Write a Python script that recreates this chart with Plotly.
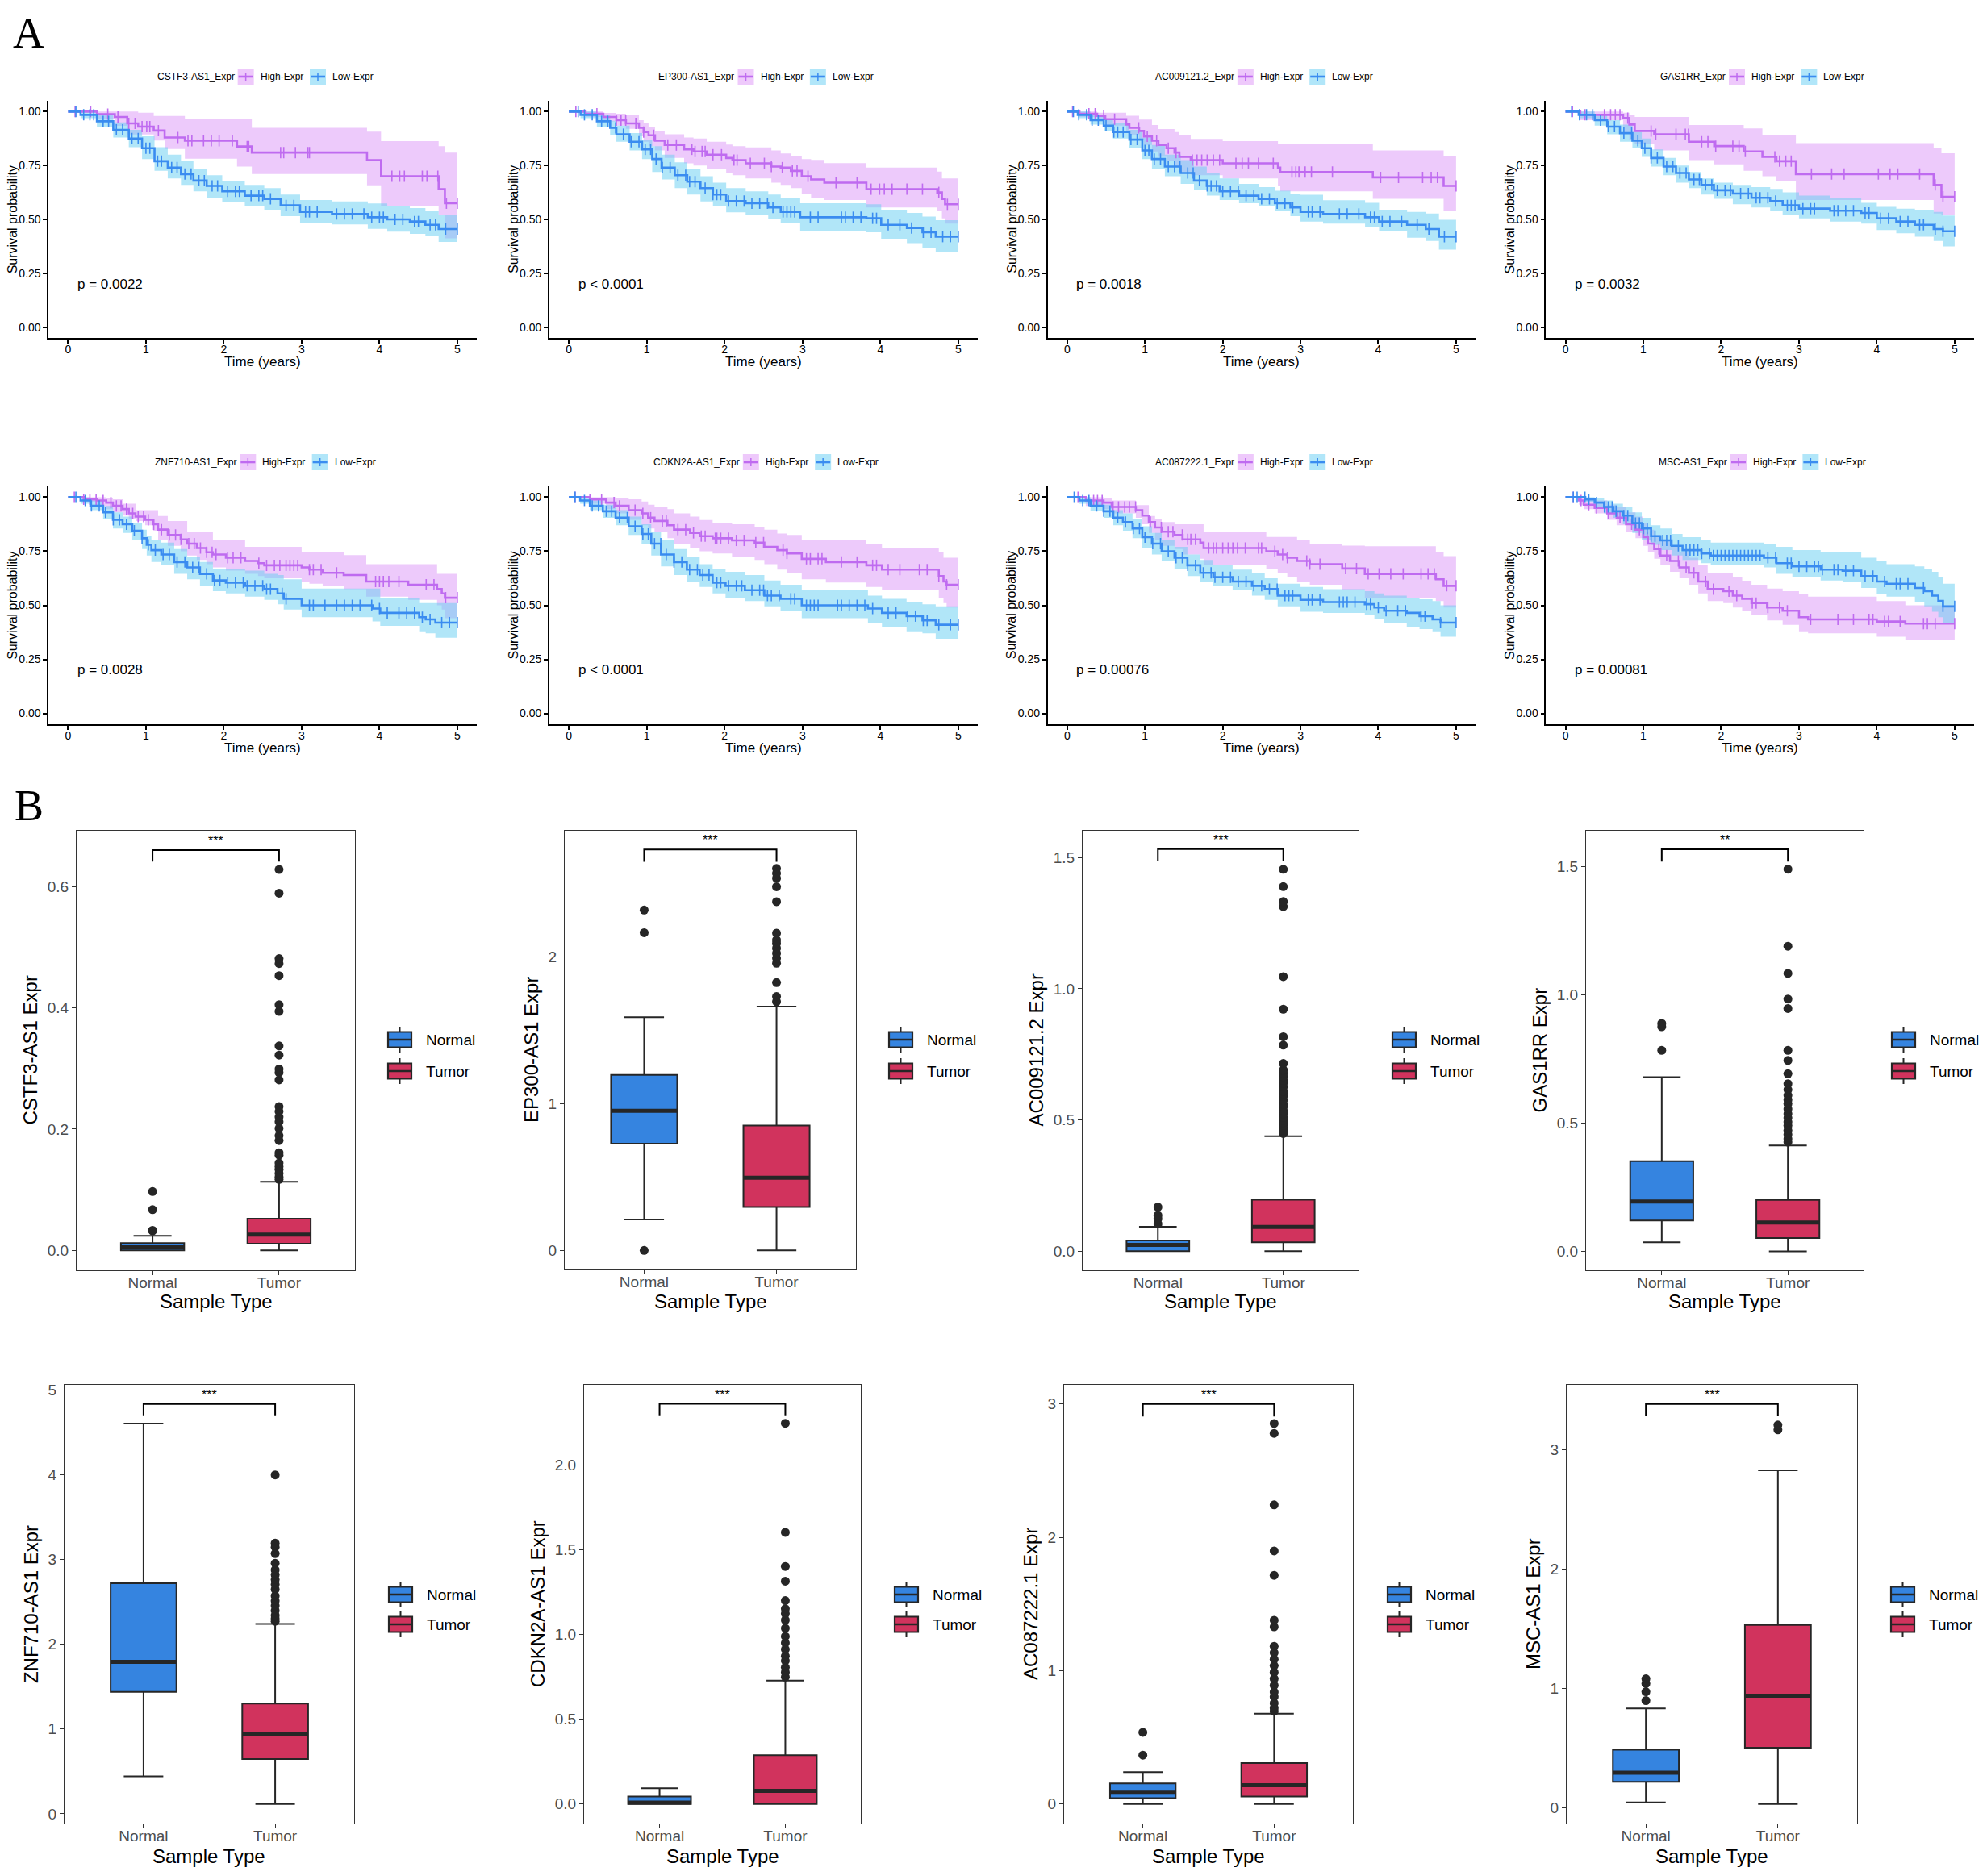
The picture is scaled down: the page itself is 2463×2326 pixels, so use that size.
import plotly.graph_objects as go

W, H = 2463, 2326
PAD = 8  # default page margin around the plot div
FW, FH = W - 2 * PAD, H - 2 * PAD
SANS = "Liberation Sans, Arial, sans-serif"
SERIF = "Liberation Serif, Times New Roman, serif"

HIGH_LINE = "#BF6BF0"
LOW_LINE = "#3A8CF0"
HIGH_BAND = "rgba(220,150,248,0.5)"
LOW_BAND = "rgba(100,205,242,0.5)"
HIGH_KEY = "#EEC9FB"
LOW_KEY = "#B1E6F9"
NORMAL_FILL = "#3584E0"
TUMOR_FILL = "#D1335D"
INK = "#262626"

# ---------------- panel A: Kaplan-Meier curves ----------------
# rows: (time in years, survival, lower CI, upper CI)
genes = ["CSTF3-AS1", "EP300-AS1", "AC009121.2", "GAS1RR",
         "ZNF710-AS1", "CDKN2A-AS1", "AC087222.1", "MSC-AS1"]
pvals = ["p = 0.0022", "p < 0.0001", "p = 0.0018", "p = 0.0032",
         "p = 0.0028", "p < 0.0001", "p = 0.00076", "p = 0.00081"]

cstf3_high = [(0, 1, 1, 1), (0.37, 0.988, 0.965, 1.0), (0.60, 0.975, 0.934, 1.0), (0.76, 0.945, 0.894, 1.0),
              (0.90, 0.93, 0.894, 0.995), (1.10, 0.912, 0.866, 0.98), (1.24, 0.88, 0.826, 0.98),
              (1.50, 0.865, 0.782, 0.965), (2.17, 0.838, 0.745, 0.965), (2.36, 0.81, 0.71, 0.925),
              (3.84, 0.775, 0.658, 0.907), (4.02, 0.70, 0.564, 0.863), (4.76, 0.64, 0.52, 0.84),
              (4.84, 0.575, 0.412, 0.81), (5.0, 0.575, 0.412, 0.81)]
cstf3_low = [(0, 1, 1, 1), (0.16, 0.985, 0.97, 1.0), (0.37, 0.955, 0.93, 0.985), (0.58, 0.915, 0.88, 0.95),
             (0.78, 0.875, 0.835, 0.915), (0.95, 0.83, 0.78, 0.885), (1.11, 0.77, 0.725, 0.835),
             (1.28, 0.74, 0.69, 0.80), (1.45, 0.71, 0.66, 0.77), (1.61, 0.68, 0.63, 0.735),
             (1.78, 0.655, 0.60, 0.705), (1.98, 0.63, 0.58, 0.68), (2.27, 0.61, 0.56, 0.66),
             (2.52, 0.595, 0.545, 0.645), (2.73, 0.565, 0.515, 0.615), (2.98, 0.535, 0.485, 0.59),
             (3.39, 0.525, 0.477, 0.583), (3.85, 0.51, 0.456, 0.574), (4.10, 0.50, 0.443, 0.564),
             (4.39, 0.49, 0.433, 0.552), (4.59, 0.475, 0.421, 0.54), (4.76, 0.455, 0.395, 0.52),
             (5.0, 0.455, 0.395, 0.52)]
cstf3_high_cens = [0.09, 0.29, 0.51, 0.64, 0.78, 0.86, 0.95, 1.01, 1.05, 1.16, 1.41, 1.54, 1.59, 1.74, 1.84,
                   1.94, 2.11, 2.30, 2.32, 2.73, 2.77, 2.92, 3.08, 3.10, 4.16, 4.26, 4.32, 4.55, 4.61, 4.75,
                   4.86, 5.0]
cstf3_low_cens = [0.1, 0.2, 0.28, 0.33, 0.45, 0.52, 0.62, 0.7, 0.82, 0.9, 1.0, 1.05, 1.15, 1.2, 1.33, 1.4,
                  1.5, 1.58, 1.68, 1.75, 1.85, 1.92, 2.05, 2.15, 2.2, 2.35, 2.45, 2.5, 2.6, 2.8, 2.9, 3.05,
                  3.1, 3.2, 3.45, 3.55, 3.65, 3.8, 3.9, 4.0, 4.05, 4.2, 4.3, 4.45, 4.5, 4.65, 4.72, 4.85, 5.0]

ep300_high = [(0, 1, 1, 1), (0.215, 0.99, 0.975, 1.0), (0.443, 0.975, 0.955, 0.994), (0.609, 0.96, 0.935, 0.99),
              (0.733, 0.945, 0.92, 0.985), (0.90, 0.925, 0.885, 0.96), (0.96, 0.905, 0.86, 0.945),
              (1.023, 0.89, 0.84, 0.93), (1.106, 0.865, 0.82, 0.91), (1.23, 0.845, 0.785, 0.895),
              (1.48, 0.825, 0.76, 0.88), (1.60, 0.815, 0.75, 0.875), (1.77, 0.80, 0.735, 0.86),
              (2.02, 0.785, 0.715, 0.847), (2.10, 0.775, 0.705, 0.84), (2.27, 0.76, 0.69, 0.834),
              (2.60, 0.745, 0.67, 0.82), (2.72, 0.74, 0.66, 0.806), (2.85, 0.725, 0.645, 0.795),
              (2.99, 0.70, 0.62, 0.78), (3.11, 0.685, 0.60, 0.776), (3.28, 0.67, 0.59, 0.761),
              (3.82, 0.64, 0.555, 0.74), (4.73, 0.625, 0.54, 0.722), (4.79, 0.595, 0.505, 0.69),
              (4.83, 0.57, 0.48, 0.69), (5.0, 0.57, 0.48, 0.69)]
ep300_low = [(0, 1, 1, 1), (0.15, 0.985, 0.97, 1.0), (0.36, 0.955, 0.93, 0.985), (0.53, 0.925, 0.89, 0.957),
             (0.61, 0.895, 0.86, 0.935), (0.78, 0.86, 0.82, 0.90), (0.94, 0.825, 0.78, 0.87),
             (1.07, 0.78, 0.72, 0.84), (1.19, 0.74, 0.685, 0.80), (1.36, 0.705, 0.645, 0.765),
             (1.52, 0.675, 0.615, 0.735), (1.69, 0.645, 0.583, 0.70), (1.85, 0.615, 0.56, 0.67),
             (2.02, 0.585, 0.533, 0.645), (2.27, 0.575, 0.52, 0.63), (2.56, 0.555, 0.50, 0.615),
             (2.72, 0.535, 0.483, 0.60), (2.97, 0.51, 0.446, 0.575), (3.82, 0.505, 0.44, 0.57),
             (4.01, 0.475, 0.41, 0.545), (4.34, 0.46, 0.39, 0.53), (4.54, 0.44, 0.365, 0.513),
             (4.71, 0.42, 0.349, 0.496), (5.0, 0.42, 0.349, 0.496)]
ep300_high_cens = [0.09, 0.36, 0.61, 0.67, 0.73, 0.86, 0.96, 1.09, 1.27, 1.38, 1.58, 1.62, 1.71, 1.75, 1.85,
                   1.96, 2.12, 2.16, 2.33, 2.51, 2.6, 2.74, 2.87, 2.93, 3.07, 3.43, 3.7, 3.88, 3.99, 4.05,
                   4.15, 4.34, 4.54, 4.75, 4.86, 5.0]
ep300_low_cens = [0.12, 0.2, 0.3, 0.42, 0.5, 0.6, 0.7, 0.8, 0.9, 0.98, 1.05, 1.12, 1.2, 1.3, 1.4, 1.5, 1.55,
                  1.62, 1.75, 1.85, 1.9, 1.95, 2.05, 2.15, 2.25, 2.35, 2.45, 2.55, 2.62, 2.75, 2.8, 2.85,
                  2.9, 3.1, 3.2, 3.5, 3.55, 3.65, 3.75, 3.9, 3.95, 4.1, 4.25, 4.4, 4.55, 4.65, 4.8, 4.9, 5.0]

ac009_high = [(0, 1, 1, 1), (0.158, 0.99, 0.975, 1.0), (0.386, 0.98, 0.96, 0.995), (0.49, 0.965, 0.935, 0.995),
              (0.759, 0.94, 0.905, 0.981), (0.80, 0.925, 0.89, 0.981), (0.925, 0.91, 0.87, 0.963),
              (0.987, 0.885, 0.845, 0.963), (1.09, 0.865, 0.815, 0.938), (1.173, 0.845, 0.79, 0.919),
              (1.277, 0.83, 0.77, 0.919), (1.38, 0.81, 0.745, 0.905), (1.443, 0.79, 0.72, 0.892),
              (1.588, 0.775, 0.705, 0.873), (2.0, 0.76, 0.69, 0.863), (2.71, 0.74, 0.655, 0.851),
              (2.74, 0.72, 0.63, 0.851), (3.93, 0.695, 0.595, 0.82), (4.84, 0.655, 0.54, 0.792),
              (5.0, 0.655, 0.54, 0.792)]
ac009_low = [(0, 1, 1, 1), (0.137, 0.985, 0.97, 1.0), (0.30, 0.96, 0.94, 0.985), (0.47, 0.935, 0.91, 0.965),
             (0.59, 0.905, 0.875, 0.945), (0.80, 0.87, 0.83, 0.915), (0.966, 0.82, 0.78, 0.88),
             (1.09, 0.78, 0.735, 0.845), (1.256, 0.745, 0.70, 0.80), (1.46, 0.715, 0.665, 0.775),
             (1.63, 0.68, 0.635, 0.745), (1.795, 0.655, 0.61, 0.715), (1.96, 0.63, 0.59, 0.69),
             (2.21, 0.61, 0.575, 0.665), (2.46, 0.595, 0.56, 0.65), (2.67, 0.575, 0.54, 0.633),
             (2.87, 0.555, 0.515, 0.62), (3.0, 0.535, 0.49, 0.614), (3.29, 0.525, 0.48, 0.589),
             (3.83, 0.51, 0.465, 0.577), (4.01, 0.49, 0.445, 0.545), (4.37, 0.475, 0.415, 0.535),
             (4.61, 0.455, 0.40, 0.527), (4.78, 0.42, 0.36, 0.498), (5.0, 0.42, 0.36, 0.498)]
ac009_high_cens = [0.07, 0.28, 0.36, 0.47, 0.61, 0.92, 1.03, 1.15, 1.30, 1.40, 1.61, 1.67, 1.73, 1.80, 1.88,
                   1.96, 2.17, 2.25, 2.33, 2.46, 2.65, 2.89, 2.94, 2.98, 3.06, 3.14, 3.41, 4.03, 4.26, 4.57,
                   4.68, 4.76, 5.0]
ac009_low_cens = [0.08, 0.15, 0.25, 0.32, 0.4, 0.5, 0.6, 0.65, 0.72, 0.82, 0.9, 1.0, 1.05, 1.12, 1.2, 1.3,
                  1.38, 1.45, 1.55, 1.62, 1.7, 1.8, 1.85, 1.92, 2.0, 2.1, 2.2, 2.3, 2.4, 2.5, 2.6, 2.7, 2.8,
                  2.9, 3.1, 3.15, 3.25, 3.5, 3.6, 3.75, 3.9, 3.95, 4.05, 4.15, 4.3, 4.5, 4.65, 4.85, 5.0]

gas1rr_high = [(0, 1, 1, 1), (0.19, 0.985, 0.96, 1.0), (0.74, 0.97, 0.90, 0.995), (0.82, 0.94, 0.87, 0.985),
               (0.89, 0.91, 0.85, 0.975), (1.14, 0.895, 0.82, 0.975), (1.585, 0.86, 0.775, 0.938),
               (1.91, 0.84, 0.755, 0.938), (2.29, 0.815, 0.725, 0.922), (2.53, 0.79, 0.70, 0.892),
               (2.71, 0.77, 0.68, 0.892), (2.96, 0.71, 0.59, 0.854), (4.73, 0.66, 0.527, 0.832),
               (4.83, 0.605, 0.52, 0.807), (5.0, 0.605, 0.52, 0.807)]
gas1rr_low = [(0, 1, 1, 1), (0.17, 0.985, 0.97, 1.0), (0.375, 0.96, 0.935, 0.985), (0.536, 0.93, 0.895, 0.96),
              (0.70, 0.90, 0.86, 0.94), (0.86, 0.865, 0.83, 0.905), (0.98, 0.83, 0.79, 0.875),
              (1.10, 0.785, 0.745, 0.825), (1.26, 0.745, 0.705, 0.785), (1.42, 0.715, 0.67, 0.75),
              (1.585, 0.685, 0.645, 0.72), (1.746, 0.66, 0.615, 0.69), (1.907, 0.635, 0.595, 0.67),
              (2.15, 0.62, 0.57, 0.66), (2.39, 0.60, 0.555, 0.65), (2.63, 0.585, 0.54, 0.641),
              (2.79, 0.565, 0.52, 0.625), (3.0, 0.55, 0.505, 0.61), (3.4, 0.54, 0.49, 0.60),
              (3.8, 0.53, 0.48, 0.577), (4.0, 0.505, 0.45, 0.558), (4.25, 0.49, 0.435, 0.55),
              (4.49, 0.475, 0.42, 0.545), (4.73, 0.455, 0.40, 0.535), (4.85, 0.445, 0.375, 0.518),
              (5.0, 0.445, 0.375, 0.518)]
gas1rr_high_cens = [0.09, 0.25, 0.50, 0.58, 0.64, 0.70, 0.80, 1.10, 1.16, 1.42, 1.54, 1.58, 1.75, 1.83, 1.93,
                    2.15, 2.23, 2.31, 2.69, 2.75, 2.83, 2.90, 3.16, 3.42, 3.58, 4.02, 4.17, 4.27, 4.55, 4.75,
                    4.85, 5.0]
gas1rr_low_cens = [0.08, 0.18, 0.27, 0.35, 0.45, 0.55, 0.63, 0.75, 0.85, 0.93, 1.02, 1.1, 1.18, 1.3, 1.38,
                   1.47, 1.55, 1.65, 1.72, 1.8, 1.88, 1.95, 2.05, 2.12, 2.25, 2.35, 2.45, 2.5, 2.6, 2.7, 2.85,
                   2.9, 2.95, 3.05, 3.15, 3.2, 3.45, 3.5, 3.6, 3.7, 3.85, 3.9, 4.05, 4.15, 4.3, 4.4, 4.55,
                   4.6, 4.75, 4.85, 5.0]

znf710_high = [(0, 1, 1, 1), (0.20, 0.99, 0.975, 1.0), (0.37, 0.985, 0.96, 1.0), (0.49, 0.975, 0.945, 0.995),
               (0.576, 0.96, 0.93, 0.99), (0.70, 0.945, 0.915, 0.97), (0.78, 0.925, 0.90, 0.97),
               (0.866, 0.91, 0.89, 0.94), (0.99, 0.895, 0.87, 0.94), (1.094, 0.875, 0.845, 0.94),
               (1.156, 0.85, 0.80, 0.913), (1.28, 0.825, 0.775, 0.89), (1.446, 0.805, 0.75, 0.89),
               (1.53, 0.785, 0.73, 0.84), (1.653, 0.765, 0.71, 0.84), (1.777, 0.745, 0.69, 0.84),
               (1.86, 0.735, 0.675, 0.80), (2.027, 0.72, 0.66, 0.80), (2.274, 0.705, 0.645, 0.77),
               (2.44, 0.695, 0.635, 0.77), (2.52, 0.685, 0.625, 0.77), (3.0, 0.675, 0.61, 0.745),
               (3.1, 0.665, 0.60, 0.745), (3.27, 0.65, 0.59, 0.745), (3.54, 0.64, 0.575, 0.732),
               (3.83, 0.61, 0.54, 0.69), (4.37, 0.595, 0.525, 0.69), (4.74, 0.575, 0.50, 0.645),
               (4.80, 0.555, 0.48, 0.645), (4.84, 0.535, 0.44, 0.645), (5.0, 0.535, 0.44, 0.645)]
znf710_low = [(0, 1, 1, 1), (0.16, 0.985, 0.97, 1.0), (0.286, 0.96, 0.94, 0.985), (0.45, 0.93, 0.90, 0.96),
              (0.576, 0.895, 0.855, 0.93), (0.70, 0.875, 0.835, 0.91), (0.824, 0.845, 0.80, 0.88),
              (0.95, 0.81, 0.76, 0.85), (1.01, 0.78, 0.73, 0.82), (1.07, 0.755, 0.70, 0.80),
              (1.197, 0.735, 0.685, 0.79), (1.363, 0.70, 0.645, 0.76), (1.53, 0.675, 0.62, 0.726),
              (1.694, 0.645, 0.59, 0.70), (1.86, 0.615, 0.565, 0.67), (2.026, 0.605, 0.555, 0.67),
              (2.274, 0.59, 0.54, 0.66), (2.52, 0.575, 0.525, 0.645), (2.69, 0.555, 0.505, 0.64),
              (2.77, 0.53, 0.48, 0.62), (3.0, 0.50, 0.445, 0.577), (3.91, 0.485, 0.425, 0.577),
              (4.01, 0.465, 0.405, 0.535), (4.51, 0.445, 0.38, 0.51), (4.594, 0.435, 0.37, 0.51),
              (4.718, 0.42, 0.35, 0.51), (5.0, 0.42, 0.35, 0.51)]
znf710_high_cens = [0.08, 0.2, 0.28, 0.36, 0.45, 0.55, 0.62, 0.68, 0.75, 0.83, 0.9, 0.97, 1.03, 1.1, 1.2, 1.3,
                    1.38, 1.45, 1.55, 1.62, 1.7, 1.78, 1.85, 1.9, 2.05, 2.12, 2.22, 2.45, 2.55, 2.65, 2.72,
                    2.8, 2.85, 2.9, 2.95, 3.1, 3.15, 3.25, 3.45, 3.95, 4.0, 4.05, 4.12, 4.25, 4.6, 4.7, 4.85,
                    5.0]
znf710_low_cens = [0.1, 0.22, 0.3, 0.4, 0.48, 0.58, 0.66, 0.75, 0.85, 0.95, 1.03, 1.12, 1.22, 1.3, 1.4, 1.5,
                   1.6, 1.68, 1.78, 1.88, 1.95, 2.05, 2.15, 2.25, 2.3, 2.4, 2.5, 2.55, 2.6, 2.75, 2.8, 3.1,
                   3.15, 3.3, 3.45, 3.55, 3.65, 3.75, 3.9, 4.0, 4.1, 4.25, 4.35, 4.45, 4.55, 4.65, 4.8, 4.9,
                   5.0]

cdkn2a_high = [(0, 1, 1, 1), (0.27, 0.99, 0.97, 1.0), (0.477, 0.975, 0.945, 1.0), (0.60, 0.96, 0.925, 0.995),
               (0.768, 0.94, 0.895, 0.99), (0.934, 0.925, 0.87, 0.98), (1.017, 0.905, 0.855, 0.965),
               (1.10, 0.89, 0.84, 0.955), (1.266, 0.87, 0.81, 0.945), (1.35, 0.85, 0.785, 0.925),
               (1.556, 0.835, 0.765, 0.91), (1.68, 0.82, 0.75, 0.894), (1.846, 0.81, 0.74, 0.882),
               (2.095, 0.80, 0.725, 0.875), (2.386, 0.79, 0.71, 0.86), (2.51, 0.77, 0.69, 0.85),
               (2.676, 0.755, 0.665, 0.832), (2.80, 0.74, 0.65, 0.825), (2.99, 0.715, 0.62, 0.80),
               (3.30, 0.70, 0.605, 0.80), (3.82, 0.685, 0.585, 0.782), (4.02, 0.665, 0.57, 0.767),
               (4.75, 0.635, 0.535, 0.745), (4.81, 0.61, 0.51, 0.72), (4.85, 0.595, 0.49, 0.72),
               (5.0, 0.595, 0.49, 0.72)]
cdkn2a_low = [(0, 1, 1, 1), (0.145, 0.985, 0.97, 1.0), (0.27, 0.96, 0.94, 0.985), (0.436, 0.935, 0.905, 0.965),
              (0.60, 0.905, 0.87, 0.94), (0.768, 0.865, 0.825, 0.91), (0.934, 0.83, 0.785, 0.875),
              (1.058, 0.785, 0.73, 0.84), (1.183, 0.735, 0.68, 0.80), (1.35, 0.70, 0.64, 0.76),
              (1.515, 0.665, 0.61, 0.725), (1.68, 0.64, 0.585, 0.69), (1.846, 0.605, 0.555, 0.67),
              (2.012, 0.59, 0.535, 0.655), (2.26, 0.57, 0.52, 0.64), (2.51, 0.545, 0.495, 0.615),
              (2.718, 0.53, 0.475, 0.595), (2.99, 0.50, 0.44, 0.57), (3.84, 0.485, 0.42, 0.545),
              (4.02, 0.465, 0.40, 0.53), (4.336, 0.45, 0.38, 0.515), (4.54, 0.43, 0.37, 0.505),
              (4.71, 0.41, 0.345, 0.495), (5.0, 0.41, 0.345, 0.495)]
cdkn2a_high_cens = [0.08, 0.27, 0.42, 0.58, 0.65, 0.85, 0.95, 1.05, 1.2, 1.25, 1.4, 1.5, 1.6, 1.7, 1.75, 1.88,
                    1.9, 1.95, 2.05, 2.15, 2.25, 2.4, 2.5, 2.75, 2.8, 3.05, 3.1, 3.2, 3.25, 3.5, 3.7, 3.9,
                    3.95, 4.1, 4.25, 4.5, 4.6, 4.75, 4.85, 5.0]
cdkn2a_low_cens = [0.08, 0.2, 0.3, 0.38, 0.48, 0.55, 0.65, 0.75, 0.85, 0.95, 1.02, 1.1, 1.18, 1.25, 1.35,
                   1.45, 1.55, 1.65, 1.72, 1.8, 1.9, 1.95, 2.05, 2.15, 2.22, 2.35, 2.45, 2.5, 2.55, 2.6,
                   2.7, 2.85, 2.9, 3.05, 3.1, 3.15, 3.2, 3.45, 3.5, 3.6, 3.7, 3.8, 3.9, 4.1, 4.2, 4.35,
                   4.45, 4.55, 4.6, 4.75, 4.9, 5.0]

ac087_high = [(0, 1, 1, 1), (0.24, 0.985, 0.96, 1.0), (0.468, 0.975, 0.945, 0.995), (0.572, 0.955, 0.925, 0.985),
              (0.883, 0.94, 0.905, 0.963), (0.966, 0.915, 0.875, 0.963), (1.05, 0.885, 0.835, 0.913),
              (1.13, 0.86, 0.80, 0.90), (1.215, 0.84, 0.775, 0.885), (1.38, 0.825, 0.76, 0.875),
              (1.484, 0.805, 0.735, 0.875), (1.712, 0.79, 0.715, 0.875), (1.754, 0.765, 0.685, 0.838),
              (2.56, 0.75, 0.67, 0.816), (2.707, 0.735, 0.65, 0.816), (2.83, 0.72, 0.63, 0.816),
              (2.956, 0.705, 0.61, 0.80), (3.12, 0.69, 0.595, 0.782), (3.536, 0.67, 0.57, 0.776),
              (3.827, 0.645, 0.535, 0.773), (4.74, 0.62, 0.52, 0.745), (4.84, 0.59, 0.49, 0.727),
              (5.0, 0.59, 0.49, 0.727)]
ac087_low = [(0, 1, 1, 1), (0.158, 0.985, 0.97, 1.0), (0.30, 0.96, 0.935, 0.985), (0.468, 0.935, 0.905, 0.965),
             (0.593, 0.905, 0.87, 0.94), (0.717, 0.885, 0.845, 0.925), (0.84, 0.855, 0.81, 0.90),
             (0.966, 0.815, 0.765, 0.865), (1.09, 0.785, 0.735, 0.835), (1.215, 0.75, 0.705, 0.80),
             (1.38, 0.72, 0.67, 0.77), (1.546, 0.685, 0.635, 0.735), (1.712, 0.65, 0.61, 0.71),
             (1.878, 0.63, 0.59, 0.685), (2.127, 0.61, 0.57, 0.665), (2.376, 0.59, 0.545, 0.65),
             (2.54, 0.575, 0.525, 0.625), (2.707, 0.545, 0.495, 0.60), (3.0, 0.525, 0.47, 0.585),
             (3.29, 0.515, 0.465, 0.575), (3.827, 0.505, 0.455, 0.565), (3.95, 0.49, 0.435, 0.555),
             (4.075, 0.475, 0.42, 0.545), (4.366, 0.465, 0.40, 0.535), (4.53, 0.45, 0.39, 0.528),
             (4.697, 0.435, 0.38, 0.52), (4.80, 0.42, 0.355, 0.50), (5.0, 0.42, 0.355, 0.50)]
ac087_high_cens = [0.14, 0.34, 0.39, 0.45, 0.59, 0.66, 0.74, 0.80, 0.88, 1.07, 1.21, 1.30, 1.36, 1.48, 1.55,
                   1.59, 1.65, 1.82, 1.88, 1.92, 2.0, 2.07, 2.13, 2.19, 2.29, 2.46, 2.50, 2.67, 2.77, 2.83,
                   3.08, 3.12, 3.25, 3.58, 3.72, 3.87, 4.01, 4.16, 4.32, 4.55, 4.64, 4.72, 4.88, 5.0]
ac087_low_cens = [0.09, 0.2, 0.28, 0.38, 0.47, 0.55, 0.65, 0.75, 0.85, 0.93, 1.0, 1.1, 1.2, 1.3, 1.4, 1.48,
                  1.55, 1.65, 1.75, 1.85, 1.9, 2.0, 2.1, 2.2, 2.3, 2.4, 2.5, 2.6, 2.7, 2.8, 2.85, 2.9, 3.1,
                  3.15, 3.25, 3.5, 3.55, 3.6, 3.7, 3.85, 3.9, 4.0, 4.1, 4.25, 4.35, 4.55, 4.6, 4.8, 5.0]

msc_high = [(0, 1, 1, 1), (0.173, 0.985, 0.965, 1.0), (0.234, 0.965, 0.945, 0.99), (0.375, 0.95, 0.925, 0.985),
            (0.536, 0.925, 0.895, 0.965), (0.657, 0.905, 0.87, 0.955), (0.778, 0.875, 0.84, 0.93),
            (0.90, 0.85, 0.81, 0.91), (1.0, 0.815, 0.775, 0.88), (1.06, 0.785, 0.745, 0.85),
            (1.14, 0.76, 0.715, 0.825), (1.22, 0.73, 0.685, 0.80), (1.343, 0.705, 0.655, 0.775),
            (1.464, 0.675, 0.625, 0.745), (1.585, 0.65, 0.595, 0.72), (1.706, 0.61, 0.555, 0.685),
            (1.827, 0.575, 0.52, 0.65), (2.028, 0.565, 0.51, 0.648), (2.15, 0.545, 0.49, 0.63),
            (2.27, 0.53, 0.475, 0.614), (2.39, 0.51, 0.455, 0.595), (2.59, 0.49, 0.43, 0.577),
            (2.79, 0.475, 0.41, 0.565), (3.0, 0.445, 0.38, 0.554), (3.117, 0.435, 0.37, 0.54),
            (4.0, 0.425, 0.355, 0.52), (4.367, 0.415, 0.34, 0.50), (5.0, 0.415, 0.34, 0.50)]
msc_low = [(0, 1, 1, 1), (0.254, 0.99, 0.975, 1.0), (0.375, 0.975, 0.955, 0.995), (0.496, 0.955, 0.925, 0.985),
           (0.617, 0.935, 0.905, 0.97), (0.738, 0.915, 0.875, 0.955), (0.859, 0.88, 0.835, 0.93),
           (0.98, 0.855, 0.80, 0.905), (1.10, 0.82, 0.78, 0.87), (1.22, 0.80, 0.755, 0.855),
           (1.363, 0.775, 0.73, 0.83), (1.504, 0.755, 0.71, 0.815), (1.746, 0.74, 0.695, 0.80),
           (1.867, 0.73, 0.685, 0.79), (2.55, 0.72, 0.675, 0.785), (2.71, 0.695, 0.645, 0.77),
           (2.915, 0.68, 0.63, 0.755), (3.278, 0.665, 0.615, 0.745), (3.56, 0.66, 0.61, 0.745),
           (3.80, 0.635, 0.58, 0.72), (4.0, 0.61, 0.55, 0.705), (4.125, 0.60, 0.54, 0.69),
           (4.49, 0.58, 0.515, 0.68), (4.61, 0.565, 0.495, 0.67), (4.71, 0.545, 0.47, 0.655),
           (4.79, 0.52, 0.445, 0.63), (4.85, 0.495, 0.415, 0.60), (5.0, 0.495, 0.415, 0.60)]
msc_high_cens = [0.1, 0.2, 0.3, 0.4, 0.55, 0.7, 0.85, 0.95, 1.05, 1.2, 1.3, 1.45, 1.55, 1.65, 1.8, 1.9, 2.1,
                 2.2, 2.4, 2.45, 2.6, 2.75, 2.85, 3.15, 3.5, 3.7, 3.9, 3.95, 4.1, 4.15, 4.3, 4.6, 4.65, 4.75,
                 5.0]
msc_low_cens = [0.1, 0.15, 0.25, 0.3, 0.4, 0.5, 0.55, 0.6, 0.65, 0.75, 0.8, 0.9, 0.95, 1.0, 1.05, 1.1, 1.15,
                1.25, 1.3, 1.35, 1.45, 1.55, 1.6, 1.65, 1.7, 1.75, 1.85, 1.9, 1.95, 2.0, 2.05, 2.1, 2.15, 2.2,
                2.25, 2.3, 2.35, 2.4, 2.45, 2.5, 2.6, 2.7, 2.85, 2.9, 3.0, 3.1, 3.2, 3.25, 3.3, 3.45, 3.5,
                3.6, 3.7, 3.85, 3.95, 4.1, 4.25, 4.3, 4.4, 4.6, 4.85, 5.0]

km_high = [cstf3_high, ep300_high, ac009_high, gas1rr_high, znf710_high, cdkn2a_high, ac087_high, msc_high]
km_low = [cstf3_low, ep300_low, ac009_low, gas1rr_low, znf710_low, cdkn2a_low, ac087_low, msc_low]
km_high_cens = [cstf3_high_cens, ep300_high_cens, ac009_high_cens, gas1rr_high_cens,
                znf710_high_cens, cdkn2a_high_cens, ac087_high_cens, msc_high_cens]
km_low_cens = [cstf3_low_cens, ep300_low_cens, ac009_low_cens, gas1rr_low_cens,
               znf710_low_cens, cdkn2a_low_cens, ac087_low_cens, msc_low_cens]

# ---------------- panel B: expression boxplots ----------------
# stats: lower whisker, Q1, median, Q3, upper whisker
normal_stats = [[0.0, 0.0, 0.005, 0.012, 0.024], [0.211, 0.726, 0.95, 1.195, 1.587],
                [0.0, 0.0, 0.024, 0.041, 0.093], [0.035, 0.12, 0.194, 0.351, 0.679],
                [0.441, 1.439, 1.792, 2.72, 4.605], [0.0, 0.0, 0.008, 0.044, 0.092],
                [0.0, 0.044, 0.09, 0.154, 0.239], [0.046, 0.218, 0.294, 0.487, 0.833]]
tumor_stats = [[0.0, 0.011, 0.026, 0.052, 0.113], [0.0, 0.295, 0.494, 0.85, 1.66],
               [0.0, 0.034, 0.092, 0.196, 0.438], [0.0, 0.052, 0.112, 0.2, 0.4125],
               [0.115, 0.645, 0.94, 1.301, 2.241], [0.0, 0.0, 0.077, 0.288, 0.728],
               [0.0, 0.056, 0.141, 0.307, 0.678], [0.033, 0.504, 0.939, 1.53, 2.825]]
normal_outliers = [[0.032, 0.033, 0.067, 0.097], [0.0, 2.163, 2.317], [0.104, 0.123, 0.136, 0.168],
                   [0.783, 0.875, 0.888], [], [], [0.366, 0.537], [0.898, 0.972, 1.04, 1.08]]
tumor_outliers = [
    [0.117, 0.121, 0.127, 0.133, 0.138, 0.144, 0.157, 0.161, 0.181, 0.189, 0.201, 0.212, 0.220, 0.229, 0.237,
     0.281, 0.293, 0.299, 0.322, 0.337, 0.394, 0.405, 0.453, 0.473, 0.481, 0.589, 0.628],
    [1.694, 1.728, 1.823, 1.955, 1.989, 2.023, 2.057, 2.09, 2.113, 2.159, 2.374, 2.476, 2.533, 2.567, 2.60],
    [0.448, 0.455, 0.46, 0.47, 0.48, 0.49, 0.499, 0.51, 0.524, 0.535, 0.55, 0.56, 0.575, 0.59, 0.6, 0.61,
     0.626, 0.64, 0.651, 0.665, 0.677, 0.69, 0.715, 0.785, 0.817, 0.922, 1.046, 1.313, 1.332, 1.389, 1.455],
    [0.4256, 0.4386, 0.455, 0.471, 0.49, 0.504, 0.52, 0.536, 0.555, 0.575, 0.59, 0.608, 0.63, 0.653, 0.692,
     0.744, 0.783, 0.946, 0.983, 1.083, 1.189, 1.489],
    [2.272, 2.302, 2.341, 2.398, 2.456, 2.513, 2.571, 2.648, 2.705, 2.763, 2.82, 2.878, 2.955, 3.07, 3.147,
     3.193, 3.998],
    [0.749, 0.777, 0.806, 0.845, 0.873, 0.912, 0.95, 0.989, 1.037, 1.085, 1.123, 1.152, 1.2, 1.315, 1.402,
     1.603, 2.247],
    [0.695, 0.72, 0.756, 0.805, 0.839, 0.89, 0.939, 0.988, 1.037, 1.085, 1.134, 1.183, 1.329, 1.378, 1.715,
     1.898, 2.244, 2.78, 2.854],
    [3.163, 3.204]]
signif = ["***", "***", "***", "**", "***", "***", "***", "***"]
bracket_top = [0.66, 2.73, 1.532, 1.567, 4.835, 2.362, 3.0, 3.38]
bracket_end = [0.641, 2.646, 1.485, 1.519, 4.693, 2.289, 2.907, 3.277]

# ---------------- layout geometry (pixels on the page) ----------------
km_cols = [(60.3, 591), (681, 1212), (1298.7, 1829), (1916.4, 2447)]
km_rows = [(125, 419), (603, 898)]
km_legend_y = [95, 573]
box_frames = [(95, 440, 1030, 1575), (700, 1061, 1030, 1574), (1342, 1684, 1030, 1575), (1966, 2310, 1030, 1575),
              (80, 439, 1717, 2261), (724, 1067, 1717, 2261), (1319, 1677, 1717, 2261), (1942, 2302, 1717, 2261)]
box_ranges = [(-0.033, 0.692), (-0.13, 2.857), (-0.073, 1.602), (-0.074, 1.639),
              (-0.115, 5.061), (-0.116, 2.474), (-0.147, 3.144), (-0.131, 3.54)]
box_dtick = [0.2, 1, 0.5, 0.5, 1, 0.5, 1, 1]
box_key_x = [481, 1102, 1726, 2345, 482, 1109, 1720, 2344]
box_key_y = [(1289, 1328), (1977, 2014)]
box_xtitle_y = [1613, 2301]

# approximate advance widths (em) of the sans font, for centring the legend rows
CHAR_EM = {"A": .667, "C": .722, "D": .722, "E": .667, "F": .611, "G": .778, "I": .278, "K": .667, "M": .833,
           "N": .722, "P": .667, "R": .722, "S": .667, "T": .611, "Z": .611, "-": .333, "_": .556, ".": .278,
           "x": .5, "p": .556, "r": .333}


def text_width(s, size):
    return sum(CHAR_EM.get(c, .556) for c in s) * size


def px(x):
    return (x - PAD) / FW


def py(y):
    return 1 - (y - PAD) / FH


def axis_ids(i):
    return ("x" if i == 1 else f"x{i}"), ("y" if i == 1 else f"y{i}")


def step_at(rows, t):
    s = rows[0][1]
    for r in rows:
        if r[0] <= t:
            s = r[1]
        else:
            break
    return s


fig = go.Figure()
layout = dict(width=FW, height=FH, margin=dict(l=0, r=0, t=0, b=0), template="none",
              paper_bgcolor="white", plot_bgcolor="white", showlegend=False,
              font=dict(family=SANS, color="black"))
shapes = []
annotations = []


def text(s, x, y, size, xanchor="center", yanchor="middle", color="black", angle=0, family=SANS):
    annotations.append(dict(text=s, x=px(x), y=py(y), xref="paper", yref="paper", showarrow=False,
                            xanchor=xanchor, yanchor=yanchor, textangle=angle,
                            font=dict(size=size, color=color, family=family)))


def rect(x0, y0, x1, y1, fill, line_color=None, line_width=0):
    shapes.append(dict(type="rect", xref="paper", yref="paper", x0=px(x0), x1=px(x1), y0=py(y1), y1=py(y0),
                       fillcolor=fill, line=dict(color=line_color or fill, width=line_width), layer="above"))


def seg(x0, y0, x1, y1, color, width):
    shapes.append(dict(type="line", xref="paper", yref="paper", x0=px(x0), x1=px(x1), y0=py(y0), y1=py(y1),
                       line=dict(color=color, width=width), layer="above"))


# ---- survival panels ----
for k in range(8):
    i = k + 1
    xa, ya = axis_ids(i)
    x0, x1 = km_cols[k % 4]
    y0, y1 = km_rows[k // 4]
    for rows, band in ((km_high[k], HIGH_BAND), (km_low[k], LOW_BAND)):
        t = [r[0] for r in rows]
        fig.add_trace(go.Scatter(x=t, y=[r[2] for r in rows], mode="lines", line=dict(width=0, shape="hv"),
                                 xaxis=xa, yaxis=ya, hoverinfo="skip"))
        fig.add_trace(go.Scatter(x=t, y=[r[3] for r in rows], mode="lines", line=dict(width=0, shape="hv"),
                                 fill="tonexty", fillcolor=band, xaxis=xa, yaxis=ya, hoverinfo="skip"))
    for rows, cens, color in ((km_high[k], km_high_cens[k], HIGH_LINE), (km_low[k], km_low_cens[k], LOW_LINE)):
        fig.add_trace(go.Scatter(x=[r[0] for r in rows], y=[r[1] for r in rows], mode="lines",
                                 line=dict(color=color, width=2.6, shape="hv"), xaxis=xa, yaxis=ya))
        fig.add_trace(go.Scatter(x=cens, y=[step_at(rows, c) for c in cens], mode="markers",
                                 marker=dict(symbol="line-ns", size=10, line=dict(color=color, width=1.6)),
                                 xaxis=xa, yaxis=ya))
    common = dict(showline=True, linecolor="black", linewidth=1.8, ticks="outside", ticklen=5, tickwidth=1.5,
                  tickcolor="black", tickfont=dict(size=14, color="black", family=SANS),
                  showgrid=False, zeroline=False)
    layout["xaxis" if i == 1 else f"xaxis{i}"] = dict(domain=[px(x0), px(x1)], anchor=ya, range=[-0.25, 5.25],
                                                      tickvals=[0, 1, 2, 3, 4, 5], ticklabelstandoff=-5,
                                                      **common)
    layout["yaxis" if i == 1 else f"yaxis{i}"] = dict(domain=[py(y1), py(y0)], anchor=xa, range=[-0.05, 1.05],
                                                      tickvals=[0, 0.25, 0.5, 0.75, 1],
                                                      ticktext=["0.00", "0.25", "0.50", "0.75", "1.00"], **common)
    annotations.append(dict(text=pvals[k], x=0.1, y=0.2, xref=xa, yref=ya, showarrow=False, xanchor="left",
                            yanchor="middle", font=dict(size=17, color="black", family=SANS)))
    text("Survival probability", x0 - 45, (y0 + y1) / 2, 16, angle=-90)
    text("Time (years)", (x0 + x1) / 2, y1 + 29, 17)

    # legend row above the panel
    cx, cy = (x0 + x1) / 2, km_legend_y[k // 4]
    title = genes[k] + "_Expr"
    tw = text_width(title, 12)
    lw_high, lw_low = text_width("High-Expr", 12), text_width("Low-Expr", 12)
    lx = cx - (tw + 6 + 20 + 6 + lw_high + 8 + 20 + 6 + lw_low) / 2
    text(title, lx, cy, 12, xanchor="left")
    lx += tw + 6
    for label, key_bg, key_line, lw in (("High-Expr", HIGH_KEY, HIGH_LINE, lw_high),
                                        ("Low-Expr", LOW_KEY, LOW_LINE, lw_low)):
        rect(lx, cy - 10, lx + 20, cy + 10, key_bg)
        seg(lx + 1, cy, lx + 19, cy, key_line, 2.6)
        seg(lx + 10, cy - 5, lx + 10, cy + 5, key_line, 1.5)
        text(label, lx + 26, cy, 12, xanchor="left")
        lx += 26 + lw + 8

# ---- boxplot panels ----
for k in range(8):
    i = 9 + k
    xa, ya = axis_ids(i)
    fx0, fx1, fy0, fy1 = box_frames[k]
    for pos, stats, outs, fill in ((1, normal_stats[k], normal_outliers[k], NORMAL_FILL),
                                   (2, tumor_stats[k], tumor_outliers[k], TUMOR_FILL)):
        lo, q1, med, q3, hi = stats
        fig.add_trace(go.Box(x=[pos], lowerfence=[lo], q1=[q1], median=[med], q3=[q3], upperfence=[hi],
                             width=0.5, whiskerwidth=0.6, fillcolor=fill, boxpoints=False,
                             line=dict(color=INK, width=2), xaxis=xa, yaxis=ya))
        fig.add_trace(go.Scatter(x=[pos - 0.25, pos + 0.25], y=[med, med], mode="lines",
                                 line=dict(color=INK, width=5), xaxis=xa, yaxis=ya))
        if outs:
            fig.add_trace(go.Scatter(x=[pos] * len(outs), y=outs, mode="markers",
                                     marker=dict(size=11, color=INK), xaxis=xa, yaxis=ya))
    common = dict(showline=True, mirror=True, linecolor="#333333", linewidth=1.3, ticks="outside", ticklen=5,
                  tickwidth=1.3, tickcolor="#333333", tickfont=dict(size=19, color="#4D4D4D", family=SANS),
                  showgrid=False, zeroline=False)
    layout[f"xaxis{i}"] = dict(domain=[px(fx0), px(fx1)], anchor=ya, range=[0.4, 2.6], tickvals=[1, 2],
                               ticktext=["Normal", "Tumor"], ticklabelstandoff=-7, **common)
    fmt = ".1f" if box_dtick[k] < 1 else "d"
    layout[f"yaxis{i}"] = dict(domain=[py(fy1), py(fy0)], anchor=xa, range=list(box_ranges[k]), tick0=0,
                               dtick=box_dtick[k], tickformat=fmt, **common)
    # significance bracket
    shapes.append(dict(type="path", xref=xa, yref=ya,
                       path=f"M 1,{bracket_end[k]} L 1,{bracket_top[k]} L 2,{bracket_top[k]} L 2,{bracket_end[k]}",
                       line=dict(color="black", width=2)))
    annotations.append(dict(text=signif[k], x=1.5, y=bracket_top[k], xref=xa, yref=ya, showarrow=False,
                            xanchor="center", yanchor="bottom", yshift=1,
                            font=dict(size=16, color="black", family=SANS)))
    title_off = 58 if box_dtick[k] < 1 else 42
    text(genes[k] + " Expr", fx0 - title_off, (fy0 + fy1) / 2, 24, angle=-90)
    text("Sample Type", (fx0 + fx1) / 2, box_xtitle_y[k // 4], 24)

    # legend
    kx = box_key_x[k]
    for label, ky, fill in (("Normal", box_key_y[k // 4][0], NORMAL_FILL), ("Tumor", box_key_y[k // 4][1], TUMOR_FILL)):
        seg(kx + 14.5, ky - 16, kx + 14.5, ky + 16, INK, 2)
        rect(kx, ky - 9.5, kx + 29, ky + 9.5, fill, INK, 2.2)
        seg(kx + 1, ky, kx + 28, ky, INK, 2.5)
        text(label, kx + 45, ky, 19, xanchor="left")

# panel letters
text("A", 14, PAD + 1, 54, xanchor="left", yanchor="top", family=SERIF)
text("B", 16, 999, 54, xanchor="left", family=SERIF)

layout["shapes"] = shapes
layout["annotations"] = annotations
fig.update_layout(**layout)
fig.write_html("out.html")
